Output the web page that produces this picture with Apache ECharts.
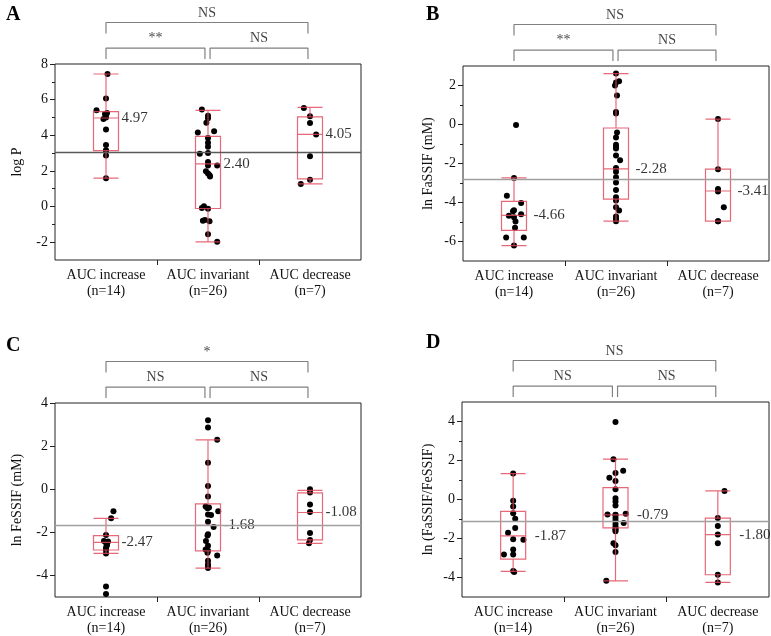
<!DOCTYPE html>
<html><head><meta charset="utf-8">
<script src="https://cdn.jsdelivr.net/npm/echarts@6/dist/echarts.min.js"></script>
<style>html,body{margin:0;padding:0;background:#fff}#c{width:771px;height:636px}</style>
</head><body><div id="c"></div>
<script>
// ---------- DATA ----------
const categories = ['AUC increase', 'AUC invariant', 'AUC decrease'];
const groupSizes = [14, 26, 7];

// Panel A : log P
const A_minor = [-1,1,3,5,7];
const A_labels = [-2,0,2,4,6,8];
const A_boxes = [[1.59,3.14,4.97,5.33,7.44],[-1.98,-0.11,2.40,3.94,5.40],[1.27,1.55,4.05,5.03,5.57]];
const A_increase = [7.44,6.06,5.40,5.25,5.20,5.15,5.00,4.92,4.32,3.46,3.16,3.12,2.86,1.59];
const A_increase_dx = [0.015,0,-0.093,0.01,-0.01,0,0,-0.025,0,0,0,0,0,0];
const A_invariant = [5.44,5.10,4.95,4.70,4.23,4.16,3.85,3.58,3.35,3.00,2.96,2.50,2.30,2.30,1.98,1.85,1.75,1.68,0.02,-0.08,-0.12,-0.75,-0.80,-0.82,-1.55,-1.98];
const A_invariant_dx = [-0.06,0,0,-0.016,0.06,-0.10,0,0,0,0,-0.08,0,0,0.09,-0.02,0,0.016,0.02,-0.04,-0.06,0,-0.03,-0.05,0.015,0,0.09];
const A_decrease = [5.53,5.07,4.69,4.04,2.82,1.51,1.27];
const A_decrease_dx = [-0.06,0,0,0.06,0,0,-0.09];
const A_ref = 3.03;
const A_brackets = ['**','NS','NS'];

// Panel B : ln FaSSIF
const B_minor = [-5,-3,-1,1];
const B_labels = [-6,-4,-2,0,2];
const B_boxes = [[-6.21,-5.43,-4.66,-3.94,-2.74],[-4.96,-3.83,-2.28,-0.18,2.61],[-4.96,-4.96,-3.41,-2.29,0.28]];
const B_increase = [-0.03,-2.74,-3.65,-4.02,-4.40,-4.45,-4.60,-4.68,-4.75,-4.97,-5.30,-5.80,-5.80,-6.21];
const B_increase_dx = [0.02,0,-0.07,0.07,0,-0.01,0.07,-0.05,0,0.015,0.01,-0.077,0.096,0];
const B_invariant = [2.61,2.22,2.15,2.00,1.49,0.64,0.57,-0.41,-0.67,-1.04,-1.15,-1.23,-1.59,-1.83,-2.23,-2.42,-2.71,-2.98,-3.36,-3.73,-3.90,-4.24,-4.41,-4.72,-4.84,-4.96];
const B_invariant_dx = [0,0.03,0,-0.01,0.01,0,0,0.01,0,0,0,0,0,0.04,0,0,0,0,0,0,0,0,0.03,0,0,0];
const B_decrease = [0.28,-2.29,-3.31,-3.43,-4.24,-4.96,-4.96];
const B_decrease_dx = [0,0,0,0,0.057,0,0];
const B_ref = -2.81;
const B_brackets = ['**','NS','NS'];

// Panel C : ln FeSSIF
const C_minor = [];
const C_labels = [-4,-2,0,2,4];
const C_boxes = [[-2.98,-2.82,-2.47,-2.15,-1.35],[-3.66,-2.86,-1.68,-0.68,2.29],[-2.51,-2.35,-1.08,-0.17,-0.05]];
const C_increase = [-1.02,-1.35,-2.12,-2.40,-2.43,-2.47,-2.50,-2.58,-2.65,-2.74,-2.82,-2.98,-4.51,-4.86];
const C_increase_dx = [0.073,0.05,0,-0.02,0.02,0,0.005,0.01,0.005,0,0,0,0,0];
const C_invariant = [3.20,2.86,2.29,1.23,0.15,-0.34,-0.80,-0.85,-0.88,-1.02,-1.17,-1.20,-1.51,-1.75,-2.09,-2.15,-2.40,-2.62,-2.80,-2.85,-2.95,-3.08,-3.32,-3.48,-3.58,-3.66];
const C_invariant_dx = [0,0,0.09,0,0,0,-0.023,0.01,-0.005,0.1,0,0.03,0,0.055,0,-0.005,-0.02,0,-0.023,0,-0.005,0.09,0,0,0,0];
const C_decrease = [0.00,-0.15,-0.71,-1.06,-2.03,-2.35,-2.51];
const C_decrease_dx = [0,0,0,0,0,0,-0.01];
const C_ref = -1.69;
const C_brackets = ['NS','NS','*'];

// Panel D : ln (FaSSIF/FeSSIF)
const D_minor = [-3,-1,1,3];
const D_labels = [-4,-2,0,2,4];
const D_boxes = [[-3.69,-3.06,-1.87,-0.61,1.33],[-4.17,-1.46,-0.79,0.61,2.07],[-4.25,-3.86,-1.80,-0.95,0.44]];
const D_increase = [1.33,-0.07,-0.36,-0.70,-0.99,-1.46,-1.70,-2.04,-2.07,-2.57,-2.82,-2.82,-3.67,-3.72];
const D_increase_dx = [0,0,0,0,0.02,0.02,-0.05,0,0.1,0,-0.09,0,0,0.01];
const D_invariant = [3.98,2.07,1.48,1.36,1.12,0.95,0.53,0.07,-0.10,-0.31,-0.73,-0.77,-0.78,-0.80,-0.95,-1.09,-1.20,-1.25,-1.40,-1.50,-1.55,-1.63,-2.24,-2.35,-2.69,-4.17];
const D_invariant_dx = [0,-0.02,0.075,0,-0.06,0,0,0,0,0,0.1,-0.078,0,0,0,0,0.08,0,0,0,0,0,-0.02,0,0,-0.09];
const D_decrease = [0.44,-0.95,-1.36,-1.79,-2.24,-3.86,-4.25];
const D_decrease_dx = [0.065,0,0,0,0,0,0];
const D_ref = -1.14;
const D_brackets = ['NS','NS','NS'];

// bracket spans (category index from / to), lower two then the upper one
const bracketFrom = [0, 1.02, 0];
const bracketTo = [0.97, 1.98, 1.98];
const bracketTier = [0, 0, 1];
// category boundaries carrying an x tick
const xTickValues = [0.5, 1.5];

// ---------- LAYOUT / STYLE ----------
const FONT = '"Liberation Serif", "Times New Roman", serif';
const panels = [
  {letter:'A', yName:'log P', yMin:-3, yMax:8, minor:A_minor, labels:A_labels, boxes:A_boxes,
   dots:[[A_increase,A_increase_dx],[A_invariant,A_invariant_dx],[A_decrease,A_decrease_dx]],
   ref:A_ref, refColor:'#5a5a5a', brackets:A_brackets, medGap:15,
   grid:{left:55, top:64, width:306, height:196}, title:{left:1, top:0}, nameGap:31},
  {letter:'B', yName:'ln FaSSIF (mM)', yMin:-7, yMax:3, minor:B_minor, labels:B_labels, boxes:B_boxes,
   dots:[[B_increase,B_increase_dx],[B_invariant,B_invariant_dx],[B_decrease,B_decrease_dx]],
   ref:B_ref, refColor:'#a0a0a0', brackets:B_brackets, medGap:19,
   grid:{left:463, top:66, width:306, height:195}, title:{left:421, top:0}, nameGap:28},
  {letter:'C', yName:'ln FeSSIF (mM)', yMin:-5, yMax:4, minor:C_minor, labels:C_labels, boxes:C_boxes,
   dots:[[C_increase,C_increase_dx],[C_invariant,C_invariant_dx],[C_decrease,C_decrease_dx]],
   ref:C_ref, refColor:'#a0a0a0', brackets:C_brackets, medGap:15,
   grid:{left:55, top:403, width:306, height:194}, title:{left:1, top:331}, nameGap:31},
  {letter:'D', yName:'ln (FaSSIF/FeSSIF)', yMin:-5, yMax:5, minor:D_minor, labels:D_labels, boxes:D_boxes,
   dots:[[D_increase,D_increase_dx],[D_invariant,D_invariant_dx],[D_decrease,D_decrease_dx]],
   ref:D_ref, refColor:'#a0a0a0', brackets:D_brackets, medGap:21,
   grid:{left:462, top:402, width:307, height:195}, title:{left:421, top:328}, nameGap:27}
];

const LEG = 1, TIER = 2.35;
const grids = [], xAxes = [], yAxes = [], series = [], titles = [];
panels.forEach((p, pi) => {
  const gMain = grids.length;
  grids.push(Object.assign({show:true, borderColor:'#222', borderWidth:1, backgroundColor:'transparent'}, p.grid));
  const gBr = grids.length;
  grids.push({left:p.grid.left, width:p.grid.width, top:p.grid.top - 5 - 36.5, height:36.5});

  const xCat = xAxes.length;
  xAxes.push({type:'category', gridIndex:gMain, data:categories, position:'bottom',
    axisLine:{show:false, onZero:false}, axisTick:{show:false}, splitLine:{show:false},
    axisLabel:{interval:0, fontFamily:FONT, fontSize:14, color:'#111', margin:7, lineHeight:16,
      formatter:(v, i) => v + '\n(n=' + groupSizes[i] + ')'}});
  const xVal = xAxes.length;
  xAxes.push({type:'value', gridIndex:gMain, min:-0.5, max:2.5, position:'bottom',
    axisLine:{show:false, onZero:false}, splitLine:{show:false},
    axisLabel:{show:true, customValues:xTickValues, formatter:() => ''},
    axisTick:{show:true, customValues:xTickValues, length:5, lineStyle:{color:'#222'}}});
  const xBr = xAxes.length;
  xAxes.push({type:'value', gridIndex:gBr, min:-0.5, max:2.5, show:false, axisLine:{onZero:false}});

  const yMain = yAxes.length;
  yAxes.push({type:'value', gridIndex:gMain, min:p.yMin, max:p.yMax, position:'left',
    name:p.yName, nameLocation:'middle', nameGap:p.nameGap,
    nameTextStyle:{fontFamily:FONT, fontSize:14, color:'#111'},
    axisLine:{show:false, onZero:false}, splitLine:{show:false},
    axisTick:{show:true, customValues:p.labels, length:5, lineStyle:{color:'#222'}},
    axisLabel:{customValues:p.labels, fontFamily:FONT, fontSize:14, color:'#111', margin:7}});
  if (p.minor.length) {
    yAxes.push({type:'value', gridIndex:gMain, min:p.yMin, max:p.yMax, position:'left',
      axisLine:{show:false, onZero:false}, splitLine:{show:false},
      axisLabel:{show:true, customValues:p.minor, formatter:() => ''},
      axisTick:{show:true, customValues:p.minor, length:3, lineStyle:{color:'#222'}}});
  }
  const yBr = yAxes.length;
  yAxes.push({type:'value', gridIndex:gBr, min:0, max:TIER + LEG, show:false, axisLine:{onZero:false}});

  // dots
  const dotData = [];
  p.dots.forEach((g, gi) => g[0].forEach((v, k) => dotData.push([gi + g[1][k], v])));
  series.push({type:'scatter', xAxisIndex:xVal, yAxisIndex:yMain, data:dotData, symbolSize:6,
    itemStyle:{color:'#000', opacity:1}, z:2, silent:true, animation:false,
    markLine:{silent:true, symbol:['none','none'], label:{show:false},
      lineStyle:{color:p.refColor, width:1.4, type:'solid'}, data:[{yAxis:p.ref}]}});
  // boxes
  series.push({type:'boxplot', xAxisIndex:xCat, yAxisIndex:yMain, data:p.boxes, boxWidth:[25,25],
    itemStyle:{color:'rgba(0,0,0,0)', borderColor:'rgba(226,72,92,0.82)', borderWidth:1.2},
    z:3, silent:true, animation:false});
  // median labels
  series.push({type:'scatter', xAxisIndex:xVal, yAxisIndex:yMain,
    data:p.boxes.map((b, gi) => [gi, b[2]]), symbolSize:1, itemStyle:{color:'rgba(0,0,0,0)'},
    label:{show:true, position:'right', distance:p.medGap, fontFamily:FONT, fontSize:15, color:'#000',
      formatter:(q) => q.value[1].toFixed(2)}, z:4, silent:true, animation:false});
  // brackets
  p.brackets.forEach((txt, bi) => {
    const base = bracketTier[bi] * TIER;
    const x0 = bracketFrom[bi], x1 = bracketTo[bi];
    series.push({type:'line', xAxisIndex:xBr, yAxisIndex:yBr, symbol:'none', silent:true, animation:false,
      clip:false, lineStyle:{color:'#808080', width:1.2},
      data:[[x0, base], [x0, base + LEG], [x1, base + LEG], [x1, base]]});
    series.push({type:'scatter', xAxisIndex:xBr, yAxisIndex:yBr, symbolSize:1, clip:false, silent:true,
      animation:false, itemStyle:{color:'rgba(0,0,0,0)'},
      data:[{name:txt, value:[(x0 + x1) / 2, base + LEG]}],
      label:{show:true, position:'top', distance:2, formatter:'{b}', fontFamily:FONT, fontSize:14, color:'#111'}});
  });
  titles.push({text:p.letter, left:p.title.left, top:p.title.top,
    textStyle:{fontFamily:FONT, fontSize:20, fontWeight:'bold', color:'#000'}});
});

const chart = echarts.init(document.getElementById('c'));
chart.setOption({backgroundColor:'#fff', animation:false, title:titles, grid:grids,
  xAxis:xAxes, yAxis:yAxes, series:series});
</script></body></html>
